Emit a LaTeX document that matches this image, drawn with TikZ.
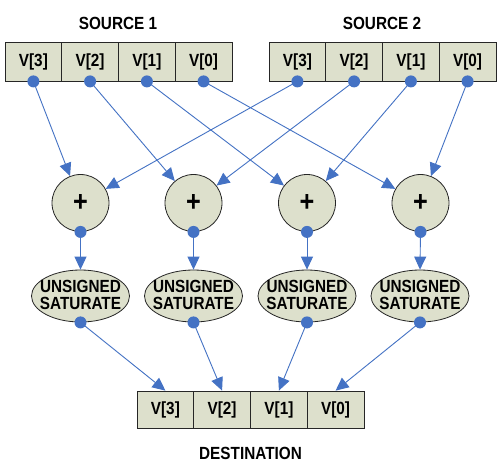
\documentclass[tikz,border=0pt]{standalone}
\usepackage{fontspec}
\setmainfont{Liberation Sans}
\newfontfamily\labfont[FakeStretch=0.87]{Liberation Sans}
\usetikzlibrary{arrows.meta,shapes.geometric}
\definecolor{cellfill}{RGB}{221,224,204}
\definecolor{wire}{RGB}{68,114,196}
\tikzset{
  txt/.style={font=\labfont\fontsize{17.6}{17.7}\selectfont\bfseries},
  cell/.style={txt,draw=black!85,line width=0.8pt,fill=cellfill,minimum width=56.75pt,minimum height=39pt,inner sep=0pt},
  dcell/.style={cell,minimum height=37pt},
  adder/.style={circle,draw=black!85,line width=0.8pt,fill=cellfill,minimum size=57pt,inner sep=0pt,font=\labfont\fontsize{29}{29}\selectfont\bfseries},
  sat/.style={ellipse,draw=black!85,line width=0.8pt,fill=cellfill,minimum width=98pt,minimum height=52pt,inner sep=0pt},
  satlabel/.style={txt,align=center,inner sep=0pt},
  title/.style={txt},
  link/.style={draw=wire,line width=0.9pt,-{Triangle[length=13pt,width=12pt]}},
  dot/.style={fill=wire,draw=none}
}
\begin{document}
\begin{tikzpicture}[x=1pt,y=-1pt]
\useasboundingbox (0,0) rectangle (504,475);
\fill[white] (0,0) rectangle (504,475);
% titles
\node[title] (t1) at (118,23) {SOURCE 1};
\node[title] (t2) at (382,23) {SOURCE 2};
\node[title] (t3) at (250.5,453) {DESTINATION};
% source 1
\node[cell] (a3) at (33.4,61.5) {V[3]};
\node[cell] (a2) at (90.1,61.5) {V[2]};
\node[cell] (a1) at (146.9,61.5) {V[1]};
\node[cell] (a0) at (203.6,61.5) {V[0]};
% source 2
\node[cell] (b3) at (297.4,61.5) {V[3]};
\node[cell] (b2) at (354.1,61.5) {V[2]};
\node[cell] (b1) at (410.9,61.5) {V[1]};
\node[cell] (b0) at (467.6,61.5) {V[0]};
% destination
\node[dcell] (d3) at (165.4,409.5) {V[3]};
\node[dcell] (d2) at (222.1,409.5) {V[2]};
\node[dcell] (d1) at (278.9,409.5) {V[1]};
\node[dcell] (d0) at (335.6,409.5) {V[0]};
% adders
\node[adder] (p3) at (80.5,203) {+};
\node[adder] (p2) at (193.5,203) {+};
\node[adder] (p1) at (307,203) {+};
\node[adder] (p0) at (420.5,203) {+};
% saturate
\foreach \i/\x in {3/80.5,2/193.5,1/307,0/420}{
  \node[sat] (s\i) at (\x,296) {};
  \node[satlabel] (l\i) at (\x,295) {UNSIGNED\\SATURATE};
}
% connectors
\foreach \i in {0,1,2,3}{
  \draw[link] (a\i.south) -- (p\i);
  \draw[link] (b\i.south) -- (p\i);
  \draw[link] (p\i.south) -- (s\i.north);
  \draw[link] (s\i.south) -- (d\i.north);
}
\foreach \i in {0,1,2,3}{
  \fill[dot] (a\i.south) circle (6pt);
  \fill[dot] (b\i.south) circle (6pt);
  \fill[dot] (p\i.south) circle (6pt);
  \fill[dot] (s\i.south) circle (6pt);
}
\end{tikzpicture}
\end{document}
